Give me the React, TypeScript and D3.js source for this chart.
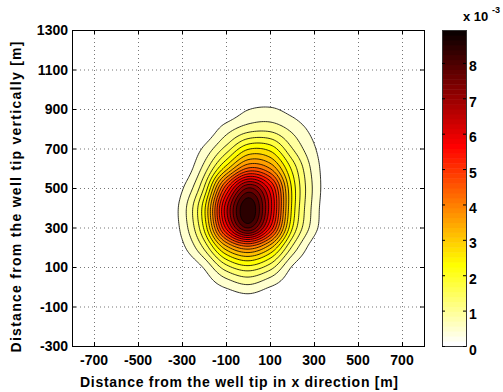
import React, { useMemo } from "react";
import * as d3 from "d3";

// Field, in units of 10^-3, on a 100 m grid
const X_NODES = [-400, -300, -200, -100, 0, 100, 200, 300, 400];
const Y_NODES = [1000, 900, 800, 700, 600, 500, 400, 300, 200, 100, 0, -100, -200];
const FIELD = [
  [0, 0, 0, 0, 0, 0, 0, 0, 0],
  [0, 0, 0, 0.05, 0.42, 0.5, 0.27, 0, 0],
  [0, 0, 0.05, 0.66, 1.12, 1.18, 0.78, 0.28, 0],
  [0, 0, 0.52, 1.5, 2.6, 2.5, 1.36, 0.5, 0],
  [0, 0.07, 1.06, 2.9, 4.5, 4.0, 2.13, 0.7, 0],
  [0, 0.39, 1.8, 5.2, 7.6, 6.0, 2.6, 0.79, 0],
  [0, 0.63, 2.5, 6.5, 8.9, 6.5, 2.6, 0.72, 0],
  [0, 0.57, 2.3, 5.9, 8.1, 5.8, 2.3, 0.63, 0],
  [0, 0.33, 1.43, 3.4, 4.3, 3.3, 1.3, 0.2, 0],
  [0, 0.02, 0.5, 1.61, 2.11, 1.56, 0.42, 0.04, 0],
  [0, 0, 0.14, 0.5, 0.78, 0.45, 0.14, 0, 0],
  [0, 0, 0, 0, 0.04, 0, 0, 0, 0],
  [0, 0, 0, 0, 0, 0, 0, 0, 0],
];
const V_MAX = 8.93;
const N_LEVELS = 20;
const X_TICKS = [-700, -500, -300, -100, 100, 300, 500, 700];
const Y_TICKS = [-300, -100, 100, 300, 500, 700, 900, 1100, 1300];
const CB_TICKS = [0, 1, 2, 3, 4, 5, 6, 7, 8];
const X_LABEL = "Distance from the well tip in x direction [m]";
const Y_LABEL = "Distance from the well tip vertically [m]";

const W = 503, H = 392;
const PL = 72, PR = 424, PT = 30, PB = 346;
const CBL = 442, CBR = 466;
const FONT = "'Liberation Sans', Arial, Helvetica, sans-serif";

function hotFlip(v: number): string {
  const idx = Math.max(0, Math.min(63, Math.floor((v / V_MAX) * 64)));
  const i = 64 - idx; // 1..64 in hot
  const r = Math.min(1, i / 24);
  const g = Math.max(0, Math.min(1, (i - 24) / 24));
  const b = Math.max(0, Math.min(1, (i - 48) / 16));
  return d3.rgb(r * 255, g * 255, b * 255).formatHex();
}

function cr(p0: number, p1: number, p2: number, p3: number, t: number) {
  return 0.5 * (2 * p1 + (-p0 + p2) * t + (2 * p0 - 5 * p1 + 4 * p2 - p3) * t * t + (-p0 + 3 * p1 - 3 * p2 + p3) * t * t * t);
}

export default function App() {
  const x = d3.scaleLinear().domain([-800, 800]).range([PL, PR]);
  const y = d3.scaleLinear().domain([-300, 1300]).range([PB, PT]);
  const cb = d3.scaleLinear().domain([0, V_MAX]).range([PB, PT]);

  const { paths } = useMemo(() => {
    const nr = Y_NODES.length, nc = X_NODES.length;
    const F = 10;
    const W2 = (nc - 1) * F + 1, H2 = (nr - 1) * F + 1;
    const get = (r: number, c: number) => FIELD[Math.max(0, Math.min(nr - 1, r))][Math.max(0, Math.min(nc - 1, c))];
    const vals = new Array(W2 * H2);
    for (let j = 0; j < H2; j++) {
      const gy = j / F;
      const r0 = Math.min(nr - 2, Math.floor(gy));
      const ty = gy - r0;
      for (let i = 0; i < W2; i++) {
        const gx = i / F;
        const c0 = Math.min(nc - 2, Math.floor(gx));
        const tx = gx - c0;
        const rows = [-1, 0, 1, 2].map((k) =>
          cr(get(r0 + k, c0 - 1), get(r0 + k, c0), get(r0 + k, c0 + 1), get(r0 + k, c0 + 2), tx)
        );
        vals[j * W2 + i] = cr(rows[0], rows[1], rows[2], rows[3], ty);
      }
    }
    const stepX = (X_NODES[1] - X_NODES[0]) / F;
    const stepY = (Y_NODES[0] - Y_NODES[1]) / F;
    const levels = d3.range(1, N_LEVELS).map((k) => (k * V_MAX) / N_LEVELS);
    const contours = d3.contours().size([W2, H2]).thresholds(levels)(vals);
    const proj = d3.geoTransform({
      point(px: number, py: number) {
        (this as any).stream.point(
          x(X_NODES[0] + (px - 0.5) * stepX),
          y(Y_NODES[0] - (py - 0.5) * stepY)
        );
      },
    });
    const gp = d3.geoPath(proj);
    return {
      paths: contours.map((c) => ({ d: gp(c as any) || "", v: c.value })),
    };
  }, []);

  const cbSteps = d3.range(64);
  const cbH = (PB - PT) / 64;

  return (
    <svg width={W} height={H} style={{ position: "absolute", left: 0, top: 0, background: "#fff" }}>
      <rect x={0} y={0} width={W} height={H} fill="#fff" />
      {/* grid */}
      <g stroke="#555" strokeWidth={1} strokeDasharray="1,3" opacity={0.8}>
        {X_TICKS.map((t) => (
          <line key={"gx" + t} x1={x(t) + 0.5} x2={x(t) + 0.5} y1={PT} y2={PB} />
        ))}
        {Y_TICKS.map((t) => (
          <line key={"gy" + t} x1={PL} x2={PR} y1={y(t) + 0.5} y2={y(t) + 0.5} />
        ))}
      </g>
      {/* filled contours */}
      <g>
        {paths.map((p, i) => (
          <path key={i} d={p.d} fill={hotFlip(p.v)} stroke="#000" strokeWidth={0.8} />
        ))}
      </g>
      {/* axes box */}
      <rect x={PL + 0.5} y={PT + 0.5} width={PR - PL} height={PB - PT} fill="none" stroke="#000" strokeWidth={1} />
      <g stroke="#000" strokeWidth={1}>
        {X_TICKS.map((t) => (
          <g key={"tx" + t}>
            <line x1={x(t) + 0.5} x2={x(t) + 0.5} y1={PB} y2={PB - 4} />
            <line x1={x(t) + 0.5} x2={x(t) + 0.5} y1={PT} y2={PT + 4} />
          </g>
        ))}
        {Y_TICKS.map((t) => (
          <g key={"ty" + t}>
            <line x1={PL} x2={PL + 4} y1={y(t) + 0.5} y2={y(t) + 0.5} />
            <line x1={PR} x2={PR - 4} y1={y(t) + 0.5} y2={y(t) + 0.5} />
          </g>
        ))}
      </g>
      <g fontFamily={FONT} fontWeight="bold" fontSize={14} fill="#000">
        {X_TICKS.map((t) => (
          <text key={"lx" + t} x={x(t)} y={365} textAnchor="middle">{t}</text>
        ))}
        {Y_TICKS.map((t) => (
          <text key={"ly" + t} x={68} y={y(t) + 5} textAnchor="end">{t}</text>
        ))}
        <text x={239} y={387} textAnchor="middle" textLength={318} lengthAdjust="spacing">{X_LABEL}</text>
        <text transform={`translate(20.5,197) rotate(-90)`} textAnchor="middle" textLength={311} lengthAdjust="spacing">{Y_LABEL}</text>
      </g>
      {/* colorbar */}
      <g>
        {cbSteps.map((k) => (
          <rect key={"cb" + k} x={CBL} width={CBR - CBL} y={PB - (k + 1) * cbH} height={cbH + 0.5}
            fill={hotFlip(((k + 0.5) / 64) * V_MAX)} />
        ))}
        <rect x={CBL + 0.5} y={PT + 0.5} width={CBR - CBL} height={PB - PT} fill="none" stroke="#333" strokeWidth={1} />
        <g stroke="#000" strokeWidth={1}>
          {CB_TICKS.map((t) => (
            <g key={"cbt" + t}>
              <line x1={CBL} x2={CBL + 3} y1={cb(t) + 0.5} y2={cb(t) + 0.5} />
              <line x1={CBR} x2={CBR - 3} y1={cb(t) + 0.5} y2={cb(t) + 0.5} />
            </g>
          ))}
        </g>
        <g fontFamily={FONT} fontWeight="bold" fontSize={14} fill="#000">
          {CB_TICKS.map((t) => (
            <text key={"cbl" + t} x={469} y={cb(t) + 8.5}>{t}</text>
          ))}
          <text x={463} y={21} fontSize={13}>x 10</text>
          <text x={492} y={13} fontSize={9}>-3</text>
        </g>
      </g>
    </svg>
  );
}
